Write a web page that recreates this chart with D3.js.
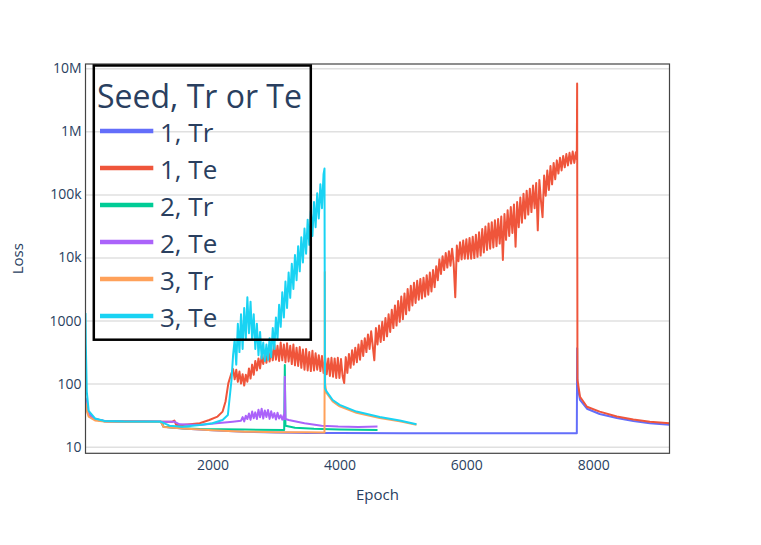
<!DOCTYPE html>
<html>
<head>
<meta charset="utf-8">
<script src="https://cdnjs.cloudflare.com/ajax/libs/d3/7.8.5/d3.min.js"></script>
<style>
  html, body { margin: 0; padding: 0; background: #fff; }
  svg { display: block; font-family: "Open Sans", verdana, arial, sans-serif; }
</style>
</head>
<body>
<div id="chart"></div>
<script>
//tick values and labels
var xTicks = [2000, 4000, 6000, 8000];
var yTicks = [10, 100, 1000, 1e4, 1e5, 1e6, 1e7];
var yTickLabels = ["10", "100", "1000", "10k", "100k", "1M", "10M"];

//legend
var legendTitle = "Seed, Tr or Te";
var traceNames = ["1, Tr", "1, Te", "2, Tr", "2, Te", "3, Tr", "3, Te"];
var traceColors = ["#636efa", "#EF553B", "#00cc96", "#ab63fa", "#FFA15A", "#19d3f3"];

//seed 1 train
var tr1Epoch = [0, 20, 50, 150, 300, 600, 1190, 1230, 1530, 2000, 2500, 3000, 3500, 4000, 5000, 6000, 7000, 7740,
  7745, 7750, 7790, 7900, 8100, 8370, 8630, 8890, 9200];
var tr1Loss = [60, 42, 33, 27.5, 25.5, 25, 24.8, 20.7, 19.4, 18.2, 17.2, 16.8, 16.5, 16.4, 16.3, 16.3, 16.3, 16.3,
  363, 96, 55, 40, 33, 28.5, 25.6, 23.6, 22.3];

//seed 1 test, noisy part read every 25 epochs
var te1Epoch = [0, 20, 50, 150, 300, 600, 1190, 1370, 1400, 1430, 1530, 1800, 1950, 2080, 2160, 2206, 2250, 2300,
  2325, 2350, 2375, 2400, 2425, 2450, 2475, 2500, 2525, 2550, 2575, 2600, 2625, 2650, 2675, 2700, 2725, 2750,
  2775, 2800, 2825, 2850, 2875, 2900, 2925, 2950, 2975, 3000, 3025, 3050, 3075, 3100, 3125, 3150, 3175, 3200,
  3225, 3250, 3275, 3300, 3325, 3350, 3375, 3400, 3425, 3450, 3475, 3500, 3525, 3550, 3575, 3600, 3625, 3650,
  3675, 3700, 3725, 3750, 3775, 3800, 3825, 3850, 3875, 3900, 3925, 3950, 3975, 4000, 4025, 4050, 4075, 4100,
  4125, 4150, 4175, 4200, 4225, 4250, 4275, 4300, 4325, 4350, 4375, 4400, 4425, 4450, 4475, 4500, 4525, 4550,
  4575, 4600, 4625, 4650, 4675, 4700, 4725, 4750, 4775, 4800, 4825, 4850, 4875, 4900, 4925, 4950, 4975, 5000,
  5025, 5050, 5075, 5100, 5125, 5150, 5175, 5200, 5225, 5250, 5275, 5300, 5325, 5350, 5375, 5400, 5425, 5450,
  5475, 5500, 5525, 5550, 5575, 5600, 5625, 5650, 5675, 5700, 5725, 5750, 5775, 5800, 5825, 5850, 5875, 5900,
  5925, 5950, 5975, 6000, 6025, 6050, 6075, 6100, 6125, 6150, 6175, 6200, 6225, 6250, 6275, 6300, 6325, 6350,
  6375, 6400, 6425, 6450, 6475, 6500, 6525, 6550, 6575, 6600, 6625, 6650, 6675, 6700, 6725, 6750, 6775, 6800,
  6825, 6850, 6875, 6900, 6925, 6950, 6975, 7000, 7025, 7050, 7075, 7100, 7125, 7150, 7175, 7200, 7225, 7250,
  7275, 7300, 7325, 7350, 7375, 7400, 7425, 7450, 7475, 7500, 7525, 7550, 7575, 7600, 7625, 7650, 7675, 7700,
  7725, 7740, 7745, 7750, 7790, 7900, 8100, 8370, 8630, 8890, 9200];
var te1Loss = [55, 40, 32, 27, 25.3, 25, 24.8, 24.9, 26, 22, 22, 23.5, 26.5, 30, 36, 52, 101, 147,
  170, 117, 166, 107, 155, 100, 141, 93, 138, 107, 174, 120, 200, 138, 229, 162, 251, 174,
  275, 204, 302, 214, 339, 224, 363, 234, 417, 240, 398, 229, 447, 234, 417, 219, 437, 224,
  398, 204, 417, 195, 372, 191, 380, 178, 347, 166, 355, 162, 316, 158, 331, 162, 302, 166,
  282, 158, 275, 148, 257, 141, 251, 132, 257, 129, 251, 123, 257, 123, 245, 132, 102, 263,
  148, 295, 178, 339, 200, 372, 219, 417, 240, 479, 275, 525, 316, 603, 355, 676, 398, 234,
  759, 417, 832, 457, 955, 490, 1096, 562, 1259, 661, 1479, 759, 1738, 832, 2042, 955, 2399, 1047,
  2692, 1259, 3162, 1445, 3548, 1738, 3981, 1905, 4266, 2138, 4571, 2239, 4786, 2399, 5248, 2570, 5754, 2884,
  6310, 3388, 7244, 4365, 9333, 5495, 10470, 6310, 11750, 6918, 12590, 7413, 13800, 7943, 2344, 15490, 8710, 17380,
  9333, 18620, 9550, 19500, 9550, 20420, 9550, 21380, 9772, 22910, 10230, 25120, 10720, 28180, 12020, 30900, 13180, 34670,
  13800, 36310, 14450, 38900, 15140, 40740, 16600, 44670, 9120, 48980, 19050, 56230, 21880, 63100, 24550, 69180, 14790, 75860,
  30200, 89130, 35480, 102300, 41690, 114800, 47860, 123000, 52480, 138000, 60260, 151400, 26920, 169800, 79430, 43650, 199500, 95500,
  239900, 117500, 281800, 144500, 316200, 173800, 346700, 213800, 380200, 239900, 407400, 269200, 436500, 288400, 457100, 309000, 478600, 316200,
  467700, 363100, 5760000, 114, 62, 43, 36, 30, 27, 24.8, 23.6];

//seed 2 train
var tr2Epoch = [0, 20, 50, 150, 300, 600, 1190, 1230, 1530, 1800, 2500, 3130, 3140, 3150, 3300, 3600, 4000, 4600];
var tr2Loss = [58, 41, 33, 27, 25.3, 25, 24.8, 20.7, 19.6, 19.1, 18.7, 18.4, 197, 21.5, 20, 19.2, 18.8, 18.4];

//seed 2 test
var te2Epoch = [0, 20, 50, 150, 300, 600, 1190, 1400, 1480, 1800, 2060, 2320,
  2450, 2475, 2500, 2525, 2550, 2575, 2600, 2625, 2650, 2675, 2700, 2725, 2750, 2775, 2800, 2825, 2850, 2875,
  2900, 2925, 2950, 2975, 3000, 3025, 3050, 3075, 3100, 3125, 3135, 3140, 3150, 3200, 3450, 3720, 3980, 4300, 4600];
var te2Loss = [57, 41, 33, 27.5, 25.4, 25, 24.8, 24.9, 22.6, 22.1, 23.5, 24.9,
  25.8, 29.5, 25.2, 31, 27.4, 33.5, 26.6, 36, 28.2, 35, 27.4, 38.5, 29.2, 40, 28, 37.5, 29.6, 38.2,
  27.6, 36.4, 28.8, 34, 27, 34.5, 28, 31.5, 26.8, 32, 27.5, 129, 27.5, 26.5, 23.5, 21.5, 20.8, 20.6, 20.9];

//seed 3 train
var tr3Epoch = [0, 20, 50, 150, 300, 600, 1190, 1230, 1530, 2000, 2500, 3000, 3500, 3765, 3770, 3775, 3794, 3894,
  4004, 4268, 4635, 4950, 5214];
var tr3Loss = [50, 37, 30, 26, 25, 24.8, 24.6, 20.5, 19.4, 18.2, 17.3, 17, 16.9, 16.8, 5900, 100, 72, 52,
  43.5, 34.5, 28.5, 25.2, 22.2];

//seed 3 test, noisy part read every 25 epochs
var te3Epoch = [0, 5, 20, 50, 150, 300, 600, 1190, 1323, 1530, 1800, 2000, 2160, 2243, 2300,
  2325, 2350, 2375, 2400, 2425, 2450, 2475, 2500, 2525, 2550, 2575, 2600, 2625, 2650, 2675, 2700, 2725, 2750,
  2775, 2800, 2825, 2850, 2875, 2900, 2925, 2950, 2975, 3000, 3025, 3050, 3075, 3100, 3125, 3150, 3175, 3200,
  3225, 3250, 3275, 3300, 3325, 3350, 3375, 3400, 3425, 3450, 3475, 3500, 3525, 3550, 3575, 3600, 3625, 3650,
  3675, 3700, 3725, 3750, 3765, 3772, 3794, 3894, 4004, 4268, 4635, 4950, 5214];
var te3Loss = [1320, 420, 75, 37, 28, 25.5, 25, 24.8, 21.5, 20.7, 22.1, 23.5, 26.5, 31.8, 114,
  282, 501, 200, 891, 316, 1259, 355, 1585, 501, 2344, 631, 1995, 501, 1259, 355, 891, 282, 661,
  251, 447, 229, 417, 240, 525, 263, 759, 355, 1122, 501, 1778, 794, 2818, 1122, 4169, 1585, 5754,
  2291, 7943, 3162, 10960, 4365, 15140, 6026, 20890, 8318, 28840, 11480, 39810, 15850, 54950, 21880, 75860, 30200, 104700,
  41690, 144500, 60260, 208900, 257000, 85, 76, 55, 46, 36, 29.5, 26, 22.6];

var traceEpochs = [tr1Epoch, te1Epoch, tr2Epoch, te2Epoch, tr3Epoch, te3Epoch];
var traceLosses = [tr1Loss, te1Loss, tr2Loss, te2Loss, tr3Loss, te3Loss];

//chart frame
var width = 761, height = 545;
var plot = {left: 85.5, right: 669.5, top: 64, bottom: 453.3};
var textColor = "#2a3f5f";
var fontStack = "'Open Sans', verdana, arial, sans-serif";

var svg = d3.select("#chart").append("svg")
            .attr("width", width)
            .attr("height", height);
svg.append("rect").attr("width", width).attr("height", height).attr("fill", "#fff");

var xScale = d3.scaleLinear().domain([0, 9200]).range([plot.left, plot.right]);
var yScale = d3.scaleLog().domain([7.85, 1.17e7]).range([plot.bottom, plot.top]);

//horizontal gridlines only
var grid = svg.append("g")
              .attr("transform", "translate(" + plot.left + ",0)")
              .call(d3.axisLeft(yScale).tickValues(yTicks).tickSize(-(plot.right - plot.left)).tickFormat(""));
grid.select(".domain").remove();
grid.selectAll("line").attr("stroke", "#e0e0e0").attr("stroke-width", 1.5);

//clip the traces to the plot area
svg.append("clipPath").attr("id", "plotclip")
   .append("rect")
   .attr("x", plot.left).attr("y", plot.top)
   .attr("width", plot.right - plot.left).attr("height", plot.bottom - plot.top);

var genLine = d3.line()
  .x(function(d){ return xScale(d[0]); })
  .y(function(d){ return yScale(d[1]); });

var traces = svg.append("g").attr("clip-path", "url(#plotclip)");
for(var i = 0; i < traceNames.length; i++){
  var pts = traceEpochs[i].map(function(e, j){ return [e, traceLosses[i][j]]; });
  traces.append("path")
        .attr("d", genLine(pts))
        .attr("fill", "none")
        .attr("stroke", traceColors[i])
        .attr("stroke-width", 2)
        .attr("stroke-linejoin", "round");
}

//axis box (mirrored lines)
svg.append("rect")
   .attr("x", plot.left).attr("y", plot.top)
   .attr("width", plot.right - plot.left).attr("height", plot.bottom - plot.top)
   .attr("fill", "none").attr("stroke", "#444").attr("stroke-width", 1.2);

//y axis labels
var yAxis = svg.append("g")
               .attr("transform", "translate(" + plot.left + ",0)")
               .call(d3.axisLeft(yScale).tickValues(yTicks).tickSize(0).tickPadding(4)
                       .tickFormat(function(d, i){ return yTickLabels[i]; }));
yAxis.select(".domain").remove();
yAxis.selectAll("text").attr("fill", textColor).style("font-size", "14px").style("font-family", fontStack);

//x axis labels
var xAxis = svg.append("g")
               .attr("transform", "translate(0," + plot.bottom + ")")
               .call(d3.axisBottom(xScale).tickValues(xTicks).tickSize(0).tickPadding(7).tickFormat(d3.format("d")));
xAxis.select(".domain").remove();
xAxis.selectAll("text").attr("fill", textColor).style("font-size", "14px").style("font-family", fontStack);

//axis titles
svg.append("text")
   .attr("x", (plot.left + plot.right) / 2).attr("y", 500)
   .attr("text-anchor", "middle").attr("fill", textColor)
   .style("font-size", "15px")
   .text("Epoch");
svg.append("text")
   .attr("transform", "translate(23," + ((plot.top + plot.bottom) / 2) + ") rotate(-90)")
   .attr("text-anchor", "middle").attr("fill", textColor)
   .style("font-size", "15px")
   .text("Loss");

//legend, transparent background so traces show through
var legend = svg.append("g");
legend.append("rect")
      .attr("x", 93.8).attr("y", 65.5).attr("width", 217).attr("height", 274.2)
      .attr("fill", "none").attr("stroke", "#000").attr("stroke-width", 2.5);
legend.append("text")
      .attr("x", 97).attr("y", 107.5)
      .attr("fill", textColor).style("font-size", "32px")
      .text(legendTitle);
traceNames.forEach(function(name, i){
  var ly = 131 + i * 37;
  legend.append("line")
        .attr("x1", 100).attr("x2", 153.3).attr("y1", ly).attr("y2", ly)
        .attr("stroke", traceColors[i]).attr("stroke-width", 4.5);
  legend.append("text")
        .attr("x", 160).attr("y", ly + 10.5)
        .attr("fill", textColor).style("font-size", "26px")
        .text(name);
});
</script>
</body>
</html>
